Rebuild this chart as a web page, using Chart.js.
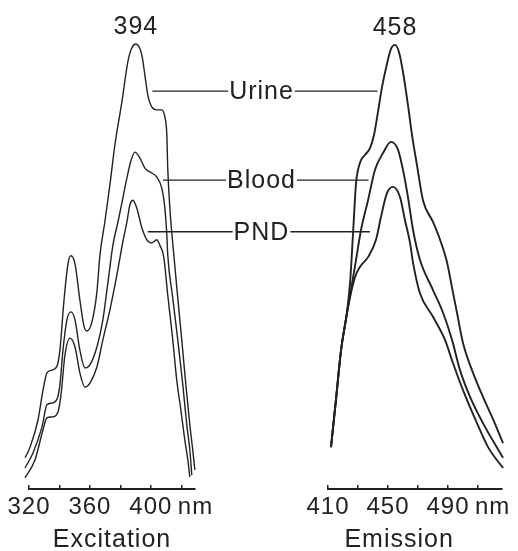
<!DOCTYPE html>
<html><head><meta charset="utf-8">
<script src="https://cdn.jsdelivr.net/npm/chart.js@4"></script>
<style>
html,body{margin:0;padding:0;background:#fff;}
#wrap{position:relative;width:518px;height:551px;overflow:hidden;}
canvas{position:absolute;left:0;top:0;}
</style></head><body>
<div id="wrap"><canvas id="ex" width="518" height="551"></canvas><canvas id="em" width="518" height="551"></canvas></div>
<script>
// ---- data (wavelength in nm, relative fluorescence intensity) ----
const seriesNames = ['Urine', 'Blood', 'PND'];

const exUrineNm = [317.4,320.7,325.9,329.2,331.8,335.1,338.4,340.3,343.0,345.6,347.5,350.2,353.4,356.1,358.0,361.3,364.6,366.6,369.8,373.1,376.4,381.0,384.9,387.5,390.2,394.1,396.1,398.0,400.7,403.9,407.2,409.2,410.5,411.1,412.5,415.1,417.7,420.3,423.0,425.6,427.5,428.9];
const exUrineI  = [7.0,9.4,15.5,22.2,26.1,26.7,27.6,31.2,42.5,50.6,52.4,50.6,42.5,36.6,35.5,37.5,44.3,52.6,60.0,68.3,77.3,87.0,96.0,99.1,100.0,97.5,93.0,88.5,85.8,85.2,85.2,83.6,79.6,72.1,63.1,52.6,42.9,33.5,23.4,14.4,8.8,4.3];

const exBloodNm = [317.4,322.6,328.5,331.8,335.1,338.4,340.3,342.3,344.9,347.5,350.2,353.4,356.7,360.0,364.6,368.5,371.8,375.1,378.4,381.0,384.3,386.9,389.5,392.8,396.1,400.7,403.9,407.2,409.2,410.5,411.1,414.4,417.7,421.0,423.6,425.6,426.9];
const exBloodI  = [4.7,8.1,13.9,18.9,19.3,20.2,23.4,31.2,38.0,39.8,38.0,31.2,27.2,27.9,31.9,38.0,46.3,54.8,60.0,64.3,69.9,73.7,75.7,74.4,72.1,71.0,70.1,67.6,63.1,57.1,52.6,42.9,33.5,23.4,14.4,8.8,3.1];

const exPndNm = [317.4,323.9,329.2,331.8,335.7,339.0,341.0,343.6,346.9,350.2,353.4,356.7,360.0,364.6,368.5,373.1,377.7,381.6,384.3,386.2,388.2,390.8,394.1,397.4,400.7,403.9,405.9,408.5,411.1,414.4,417.0,419.7,422.3,424.3,425.6];
const exPndI  = [2.5,6.5,13.3,16.0,16.2,17.3,21.1,30.1,33.9,31.9,26.1,22.9,23.8,27.4,33.5,40.2,48.1,55.5,60.0,63.8,64.9,63.1,58.7,56.0,55.3,56.0,54.8,52.1,43.6,33.5,24.5,17.8,11.0,6.5,2.7];

const emUrineNm = [412.0,415.3,418.7,422.0,424.7,426.7,428.7,430.0,432.0,434.7,438.0,440.7,443.3,446.0,449.3,452.0,454.7,457.3,460.0,463.3,466.0,469.3,473.3,480.0,484.7,489.3,492.7,496.0,500.0,506.7,513.3,520.0,526.7];
const emUrineI  = [9.4,20.0,31.2,38.2,46.3,57.5,68.8,71.7,73.9,75.1,76.6,79.6,84.7,90.3,95.5,98.9,99.8,98.2,93.7,86.3,79.6,72.8,64.9,60.0,56.0,51.0,45.2,39.6,32.8,26.1,20.7,15.7,10.3];

const emBloodNm = [412.0,415.3,418.7,422.0,425.3,428.7,432.0,436.7,441.3,446.7,452.0,456.7,460.0,463.3,466.7,471.3,480.0,486.7,492.7,498.0,504.7,513.3,526.7];
const emBloodI  = [9.4,20.0,31.2,38.2,44.7,51.5,58.2,64.9,71.7,75.5,78.0,76.2,71.7,65.6,58.2,51.5,44.7,39.6,33.5,26.7,20.7,14.8,7.0];

const emPndNm = [412.0,415.3,418.7,422.0,425.3,428.0,431.3,436.7,442.0,445.3,449.3,453.3,458.0,461.3,464.7,466.7,471.3,480.0,488.0,493.3,500.0,509.3,516.7,526.7];
const emPndI  = [9.4,20.0,31.2,38.2,44.0,47.6,49.9,52.1,56.0,61.1,66.5,67.9,65.6,60.4,55.3,50.8,44.0,38.7,33.5,28.3,22.2,14.8,9.4,4.7];

const exTicks = [320, 340, 360, 380, 400, 420];
const exLabeledTicks = [320, 360, 400];
const emTicks = [410, 430, 450, 470, 490, 510];
const emLabeledTicks = [410, 450, 490];
const unitLabel = 'nm';
const panelTitles = ['Excitation', 'Emission'];
const peakLabels = ['394', '458'];
// leader lines of the series labels: intensity level, excitation end (nm), emission end (nm)
const leaderLevels = [89.4, 69.4, 57.8];
const leaderExEnd = [401, 408, 398];
const leaderEmEnd = [443, 437, 438];

// ---- drawing ----
const INK = '#222';
const FONT = '"Liberation Sans", Arial, sans-serif';
const zip = (xs, ys) => xs.map((x, i) => ({x: x, y: ys[i]}));

function ds(name, xs, ys, w) {
  return {label: name, data: zip(xs, ys), borderColor: INK, borderWidth: w, pointRadius: 0,
          fill: false, clip: false, cubicInterpolationMode: 'monotone'};
}

const spacing = {
  id: 'spacing',
  beforeDraw(chart) { if ('letterSpacing' in chart.ctx) chart.ctx.letterSpacing = '1px'; }
};

// titleShift: number of trailing blanks, nudging the centred title leftwards like the original
function makeChart(id, datasets, min, max, ticks, labeled, title, titleShift, padL, padR, extraPlugins) {
  return new Chart(document.getElementById(id), {
    type: 'line',
    data: {datasets: datasets},
    options: {
      responsive: false, animation: false, events: [],
      layout: {padding: {left: padL, right: padR, top: 44, bottom: 0}},
      plugins: {legend: {display: false}, tooltip: {enabled: false}},
      scales: {
        x: {
          type: 'linear', min: min, max: max,
          afterBuildTicks: s => { s.ticks = ticks.map(v => ({value: v})); },
          ticks: {autoSkip: false, maxRotation: 0, minRotation: 0, padding: 8, color: INK,
                  font: {family: FONT, size: 24, lineHeight: 1.2},
                  callback: v => labeled.includes(v) ? String(v) : ''},
          grid: {display: true, drawOnChartArea: false, drawTicks: true, tickLength: -4, color: INK, lineWidth: 1.5},
          border: {display: true, color: INK, width: 2},
          title: {display: true, text: title + '\u00a0'.repeat(titleShift), color: INK,
                  font: {family: FONT, size: 25, lineHeight: 0.85},
                  padding: {top: 0, bottom: 0}}
        },
        y: {display: false, min: 0, max: 100}
      }
    },
    plugins: [spacing].concat(extraPlugins || [])
  });
}

const exChart = makeChart('ex', [
  ds(seriesNames[0], exUrineNm, exUrineI, 1.4),
  ds(seriesNames[1], exBloodNm, exBloodI, 1.4),
  ds(seriesNames[2], exPndNm, exPndI, 1.4)
], 320, 429, exTicks, exLabeledTicks, panelTitles[0], 0, 29, 323);

function peakOf(chart) {
  let best = null;
  chart.getDatasetMeta(0).data.forEach(el => { if (!best || el.y < best.y) best = el; });
  return best;
}

const annotations = {
  id: 'annotations',
  afterDraw(chart) {
    const ctx = chart.ctx;
    const exX = exChart.scales.x, emX = chart.scales.x, y = chart.scales.y;
    ctx.save();
    if ('letterSpacing' in ctx) ctx.letterSpacing = '1px';
    ctx.fillStyle = INK; ctx.strokeStyle = INK; ctx.lineWidth = 1.3;
    ctx.font = '25px ' + FONT;
    ctx.textAlign = 'center'; ctx.textBaseline = 'middle';
    const cx = (exChart.chartArea.right + chart.chartArea.left) / 2;
    seriesNames.forEach((name, i) => {
      const py = y.getPixelForValue(leaderLevels[i]);
      const w = ctx.measureText(name).width;
      ctx.beginPath();
      ctx.moveTo(exX.getPixelForValue(leaderExEnd[i]), py); ctx.lineTo(cx - w / 2 - 1, py);
      ctx.moveTo(cx + w / 2 + 1, py); ctx.lineTo(emX.getPixelForValue(leaderEmEnd[i]), py);
      ctx.stroke();
      ctx.fillText(name, cx, py + 1);
    });
    [exChart, chart].forEach((c, i) => {
      const p = peakOf(c);
      ctx.fillText(peakLabels[i], p.x, p.y - 17);
    });
    ctx.textAlign = 'left';
    ctx.font = '24px ' + FONT;
    [[exX, exLabeledTicks], [emX, emLabeledTicks]].forEach(([s, lab]) => {
      const o = s.options;
      const ty = s.top + o.grid.tickLength + o.ticks.padding + 24 * 1.2 / 2;
      ctx.fillText(unitLabel, s.getPixelForValue(lab[lab.length - 1]) + 27, ty);
    });
    ctx.restore();
  }
};

const emChart = makeChart('em', [
  ds(seriesNames[0], emUrineNm, emUrineI, 1.9),
  ds(seriesNames[1], emBloodNm, emBloodI, 1.9),
  ds(seriesNames[2], emPndNm, emPndI, 1.9)
], 410, 526, emTicks, emLabeledTicks, panelTitles[1], 4, 328, 16, [annotations]);
</script>
</body></html>
